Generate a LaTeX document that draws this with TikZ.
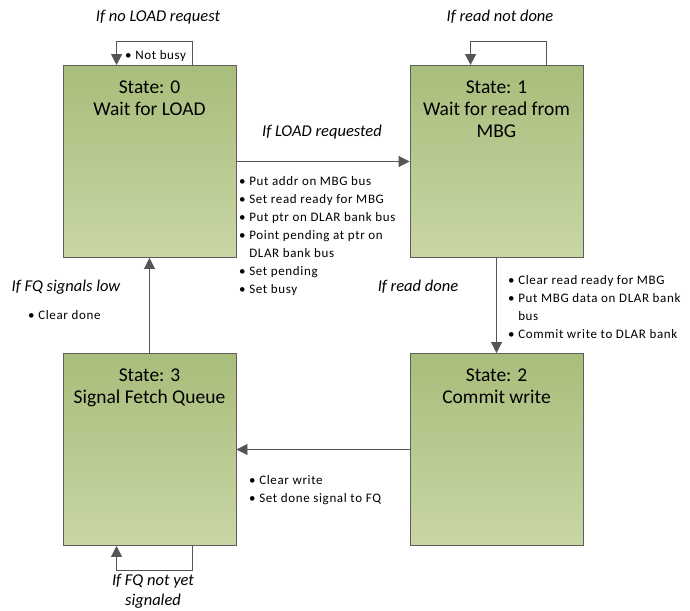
\documentclass[tikz,border=0pt]{standalone}
\usepackage{fontspec}
\setmainfont{Carlito}
\newfontfamily\notefont[LetterSpace=5]{Carlito}
\usetikzlibrary{arrows.meta,calc}

\definecolor{boxtop}{HTML}{A9BD7B}
\definecolor{boxbottom}{HTML}{C8D6A5}
\definecolor{boxedge}{HTML}{5E5E5E}
\definecolor{linecol}{HTML}{555555}

\begin{document}
\begin{tikzpicture}[x=1pt,y=-1pt,
  state/.style={draw=boxedge, line width=0.9pt, top color=boxtop, bottom color=boxbottom,
    minimum width=173pt, minimum height=192pt, inner sep=0pt},
  % multi-line titles: the base anchor sits on the last line
  title/.style={font=\fontsize{19.5}{22}\selectfont, align=center, anchor=base, inner sep=0pt},
  cond/.style={font=\fontsize{16.5}{20}\selectfont\itshape, align=center, inner sep=0pt},
  notes/.style={font=\notefont\fontsize{13}{18}\selectfont, align=left, anchor=north west, inner sep=0pt},
  flow/.style={draw=linecol, line width=0.9pt, -{Triangle[length=11pt,width=11pt,fill=linecol]}},
]
\useasboundingbox (0,0) rectangle (690,610);

% states
\node[state] (s0) at (149.5,161.5) {};
\node[state] (s1) at (496.5,161.5) {};
\node[state] (s3) at (149.5,449.5) {};
\node[state] (s2) at (496.5,449.5) {};

\node[title] (t0) at (149.5,115) {State: 0\\Wait for LOAD};
\node[title] (t1) at (496.5,137) {State: 1\\Wait for read from\\MBG};
\node[title] (t2) at (496.5,403) {State: 2\\Commit write};
\node[title] (t3) at (149.5,403) {State: 3\\Signal Fetch Queue};

% transitions
\draw[flow] (s0.east) -- (s1.west);
\draw[flow] (s1.south) -- (s2.north);
\draw[flow] (s2.west) -- (s3.east);
\draw[flow] (s3.north) -- (s0.south);

% self loops
\draw[flow] ($(s0.north west)+(130,0)$) |- ++(-38,-24) -| ($(s0.north west)+(54,0)$);
\draw[flow] ($(s1.north west)+(137,0)$) |- ++(-38,-24) -| ($(s1.north west)+(61,0)$);
\draw[flow] ($(s3.south west)+(130,0)$) |- ++(-38,24) -| ($(s3.south west)+(54,0)$);

% conditions
\node[cond] (c00) at (158,17) {If no LOAD request};
\node[cond] (c11) at (500,17) {If read not done};
\node[cond] (c01) at (322,132) {If LOAD requested};
\node[cond] (c12) at (418,287) {If read done};
\node[cond] (c30) at (66,287) {If FQ signals low};
\node[cond] (c33) at (153,591) {If FQ not yet\\signaled};

% actions
\node[notes] (a00) at (125,50) {•\ Not busy};
\node[notes] (a01) at (239,176) {•\ Put addr on MBG bus\\
  •\ Set read ready for MBG\\
  •\ Put ptr on DLAR bank bus\\
  •\ Point pending at ptr on\\
  \hphantom{•\ }DLAR bank bus\\
  •\ Set pending\\
  •\ Set busy};
\node[notes] (a12) at (508,275) {•\ Clear read ready for MBG\\
  •\ Put MBG data on DLAR bank\\
  \hphantom{•\ }bus\\
  •\ Commit write to DLAR bank};
\node[notes] (a23) at (249,475) {•\ Clear write\\
  •\ Set done signal to FQ};
\node[notes] (a30) at (28,310) {•\ Clear done};
\end{tikzpicture}
\end{document}
